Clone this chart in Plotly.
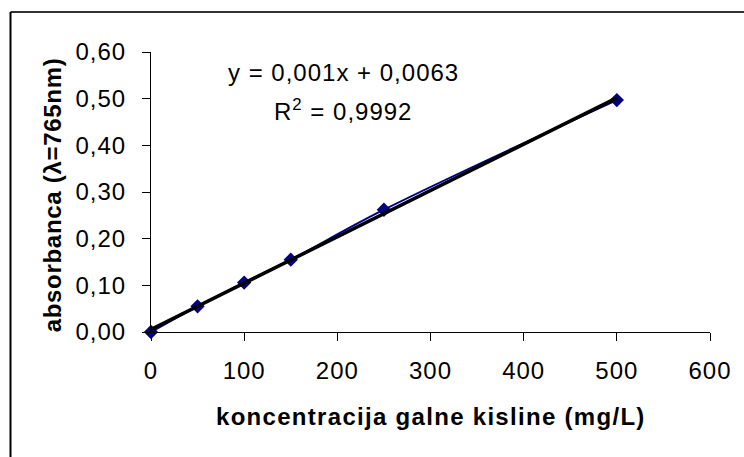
import numpy as np
import plotly.graph_objects as go

# Data
concentration = [0, 50, 100, 150, 250, 500]          # mg/L
absorbance = [0.000, 0.055, 0.106, 0.155, 0.262, 0.497]

x_ticks = [0, 100, 200, 300, 400, 500, 600]
y_ticks = [0.0, 0.1, 0.2, 0.3, 0.4, 0.5, 0.6]

equation_text = "y = 0,001x + 0,0063"
r2_text = "R<sup>2</sup> = 0,9992"
x_title = "koncentracija galne kisline (mg/L)"
y_title = "absorbanca (λ=765nm)"

# Linear trendline fitted to the data
slope, intercept = np.polyfit(concentration, absorbance, 1)
trend_x = [concentration[0], concentration[-1]]
trend_y = [slope * v + intercept for v in trend_x]

FONT = "Liberation Sans, Arial, sans-serif"
NAVY = "#000080"
FS = 24


def spaced(s, ls=1.0):
    return f"<span style='letter-spacing:{ls}px'>{s}</span>"


x_ticktext = [spaced(f"{v:d}") for v in x_ticks]
y_ticktext = [spaced(f"{v:.2f}".replace(".", ",")) for v in y_ticks]

fig = go.Figure()

fig.add_trace(go.Scatter(
    x=concentration, y=absorbance,
    mode="lines+markers",
    line=dict(color=NAVY, width=2, shape="spline", smoothing=1.0),
    marker=dict(symbol="diamond", size=11, color=NAVY),
    cliponaxis=False,
    showlegend=False,
))

fig.add_trace(go.Scatter(
    x=trend_x, y=trend_y,
    mode="lines",
    line=dict(color="black", width=3.5),
    cliponaxis=False,
    showlegend=False,
))

W, H = 744, 457
L, R, T, B = 151, 32, 52, 125
pw, ph = W - L - R, H - T - B


def px_x(p):
    return (p - L) / pw


def px_y(p):
    return (H - B - p) / ph


fig.update_layout(
    width=W, height=H,
    margin=dict(l=L, r=R, t=T, b=B, pad=0),
    paper_bgcolor="white",
    plot_bgcolor="white",
    hovermode=False,
    font=dict(family=FONT, size=FS, color="black"),
    xaxis=dict(
        range=[0, 600], tickvals=x_ticks, ticktext=x_ticktext,
        showgrid=False, zeroline=False,
        showline=True, linecolor="black", linewidth=1,
        ticks="outside", ticklen=8, tickcolor="black", tickwidth=1,
        ticklabelstandoff=9,
        tickfont=dict(family=FONT, size=FS, color="black"),
    ),
    yaxis=dict(
        range=[0, 0.6], tickvals=y_ticks, ticktext=y_ticktext,
        showgrid=False, zeroline=False,
        showline=True, linecolor="black", linewidth=1,
        ticks="outside", ticklen=8, tickcolor="black", tickwidth=1,
        ticklabelstandoff=11,
        tickfont=dict(family=FONT, size=FS, color="black"),
    ),
    shapes=[
        dict(type="line", xref="paper", yref="paper",
             x0=px_x(10), x1=px_x(W + 10), y0=px_y(12), y1=px_y(12),
             line=dict(color="#333333", width=2)),
        dict(type="line", xref="paper", yref="paper",
             x0=px_x(10), x1=px_x(10), y0=px_y(12), y1=px_y(H + 10),
             line=dict(color="black", width=2)),
    ],
    annotations=[
        dict(text=spaced(equation_text), xref="paper", yref="paper",
             x=px_x(344), y=px_y(73), xanchor="center", yanchor="middle",
             showarrow=False, font=dict(family=FONT, size=FS, color="black")),
        dict(text=spaced(r2_text), xref="paper", yref="paper",
             x=px_x(344), y=px_y(110), xanchor="center", yanchor="middle",
             showarrow=False, font=dict(family=FONT, size=FS, color="black")),
        dict(text="<b>" + spaced(x_title, 1.3) + "</b>", xref="paper", yref="paper",
             x=px_x(432), y=px_y(416), xanchor="center", yanchor="middle",
             showarrow=False, font=dict(family=FONT, size=FS, color="black")),
        dict(text="<b>" + spaced(y_title, 0.7) + "</b>", xref="paper", yref="paper",
             x=px_x(52), y=px_y(195), xanchor="center", yanchor="middle",
             textangle=-90,
             showarrow=False, font=dict(family=FONT, size=FS, color="black")),
    ],
)

fig.write_html(
    "out.html",
    config={"displayModeBar": False, "staticPlot": True},
    post_script="document.body.style.margin='0';document.body.style.overflow='hidden';",
)
